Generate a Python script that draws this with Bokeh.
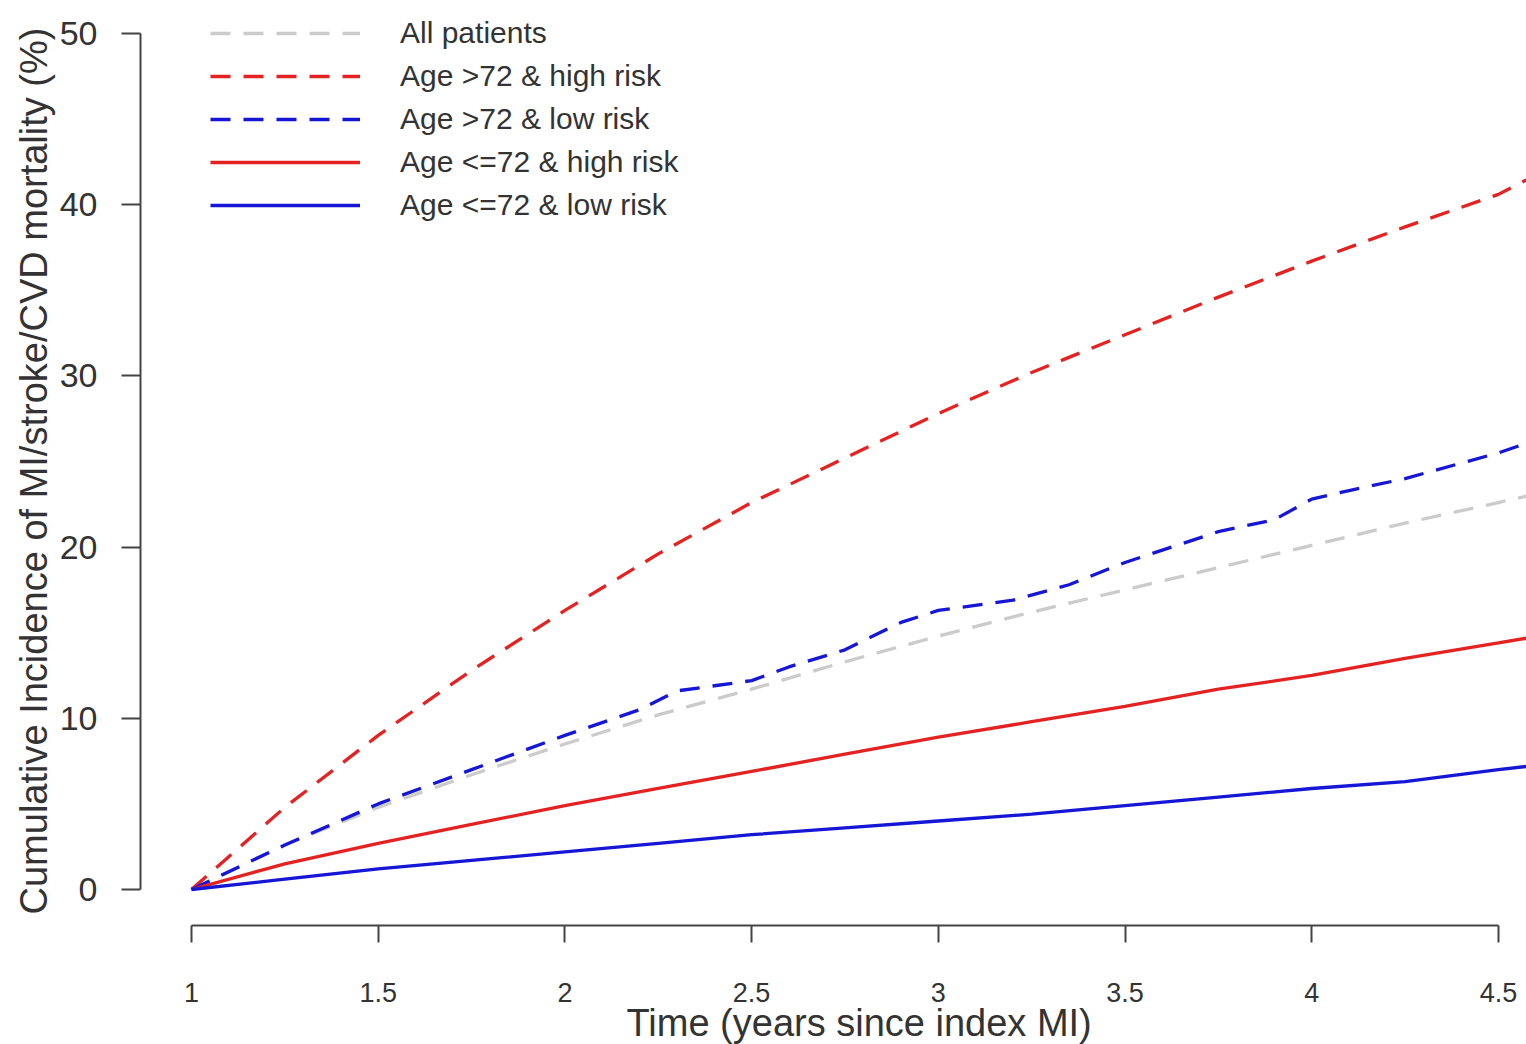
from bokeh.plotting import figure
from bokeh.models import Range1d, FixedTicker, NumeralTickFormatter, Legend, LegendItem, Title
from bokeh.embed import file_html
from bokeh.resources import INLINE

# ---- data ----
t_all = [1.0, 1.25, 1.5, 1.75, 2.0, 2.25, 2.5, 2.75, 3.0, 3.25, 3.5, 3.75, 4.0, 4.25, 4.5, 4.58]
all_patients = [0, 2.6, 4.8, 6.7, 8.5, 10.2, 11.7, 13.3, 14.8, 16.2, 17.5, 18.8, 20.1, 21.4, 22.6, 23.0]

t_old_high = [1.0, 1.25, 1.5, 1.75, 2.0, 2.25, 2.5, 2.75, 3.0, 3.25, 3.5, 3.75, 4.0, 4.25, 4.5, 4.58]
old_high = [0, 4.8, 9.0, 12.8, 16.3, 19.6, 22.6, 25.2, 27.8, 30.2, 32.4, 34.6, 36.7, 38.7, 40.6, 41.5]

t_old_low = [1.0, 1.25, 1.5, 1.75, 2.0, 2.2, 2.3, 2.5, 2.6, 2.75, 2.9, 3.0, 3.2, 3.35, 3.5, 3.75, 3.9, 4.0, 4.1, 4.25, 4.5, 4.58]
old_low = [0, 2.6, 5.0, 7.0, 9.0, 10.5, 11.6, 12.2, 13.0, 14.0, 15.6, 16.3, 16.9, 17.8, 19.1, 20.9, 21.6, 22.8, 23.3, 24.0, 25.5, 26.1]

t_young_high = [1.0, 1.25, 1.5, 1.75, 2.0, 2.25, 2.5, 2.75, 3.0, 3.25, 3.5, 3.75, 4.0, 4.25, 4.5, 4.58]
young_high = [0, 1.5, 2.7, 3.8, 4.9, 5.9, 6.9, 7.9, 8.9, 9.8, 10.7, 11.7, 12.5, 13.5, 14.4, 14.7]

t_young_low = [1.0, 1.25, 1.5, 1.75, 2.0, 2.25, 2.5, 2.75, 3.0, 3.25, 3.5, 3.75, 4.0, 4.25, 4.5, 4.58]
young_low = [0, 0.6, 1.2, 1.7, 2.2, 2.7, 3.2, 3.6, 4.0, 4.4, 4.9, 5.4, 5.9, 6.3, 7.0, 7.2]

x_ticks = [1, 1.5, 2, 2.5, 3, 3.5, 4, 4.5]
y_ticks = [0, 10, 20, 30, 40, 50]

labels = ["All patients", "Age >72 & high risk", "Age >72 & low risk",
          "Age <=72 & high risk", "Age <=72 & low risk"]

FONT = "Liberation Sans"
RED = "#e52222"
BLUE = "#1616d6"
GRAY = "#cbcbcb"
DASH = "20 13"
LW = 3.3

p = figure(frame_width=1386, frame_height=909,
           x_range=Range1d(0.86342, 4.5752), y_range=Range1d(-2.1028, 50.99),
           output_backend="svg", toolbar_location=None,
           min_border_left=140, min_border_top=16, min_border_right=0, min_border_bottom=119)
p.outline_line_color = None
p.grid.visible = False
p.background_fill_color = "white"

r_all = p.line(t_all, all_patients, line_color=GRAY, line_width=LW, line_dash=DASH)
r_oh = p.line(t_old_high, old_high, line_color=RED, line_width=LW, line_dash=DASH)
r_ol = p.line(t_old_low, old_low, line_color=BLUE, line_width=LW, line_dash=DASH)
r_yh = p.line(t_young_high, young_high, line_color=RED, line_width=LW)
r_yl = p.line(t_young_low, young_low, line_color=BLUE, line_width=LW)

# axes
xa = p.xaxis[0]
xa.ticker = FixedTicker(ticks=x_ticks)
xa.formatter = NumeralTickFormatter(format="0.[0]")
xa.bounds = (1, 4.5)
xa.minor_tick_line_color = None
xa.major_tick_out = 17
xa.major_tick_in = 0
xa.major_label_standoff = 40
xa.axis_line_color = "#444444"
xa.axis_line_width = 2
xa.major_tick_line_color = "#444444"
xa.major_tick_line_width = 2
xa.major_label_text_font = FONT
xa.major_label_text_font_size = "27px"
xa.major_label_text_color = "#333333"

ya = p.yaxis[0]
ya.ticker = FixedTicker(ticks=y_ticks)
ya.bounds = (0, 50)
ya.minor_tick_line_color = None
ya.major_tick_out = 19
ya.major_tick_in = 0
ya.major_label_standoff = 24
ya.axis_line_color = "#444444"
ya.axis_line_width = 2
ya.major_tick_line_color = "#444444"
ya.major_tick_line_width = 2
ya.major_label_text_font = FONT
ya.major_label_text_font_size = "34px"
ya.major_label_text_color = "#333333"
ya.axis_label = "Cumulative Incidence of MI/stroke/CVD mortality (%)"
ya.axis_label_text_font = FONT
ya.axis_label_text_font_size = "38px"
ya.axis_label_text_font_style = "normal"
ya.axis_label_text_color = "#333333"
ya.axis_label_standoff = 2

xtitle = Title(text="Time (years since index MI)", align="left", offset=486, standoff=-10,
               text_font=FONT, text_font_size="38px", text_font_style="normal",
               text_color="#333333")
p.add_layout(xtitle, "below")

legend = Legend(items=[LegendItem(label=lab, renderers=[r]) for lab, r in
                       zip(labels, [r_all, r_oh, r_ol, r_yh, r_yl])],
                location=(70, 703), padding=0, margin=0, spacing=9,
                glyph_width=150, glyph_height=34, label_height=34, label_standoff=40,
                label_text_font=FONT, label_text_font_size="30px", label_text_color="#333333",
                border_line_color=None, background_fill_alpha=0)
p.add_layout(legend, "center")

open("out.html", "w").write(file_html(p, INLINE))
